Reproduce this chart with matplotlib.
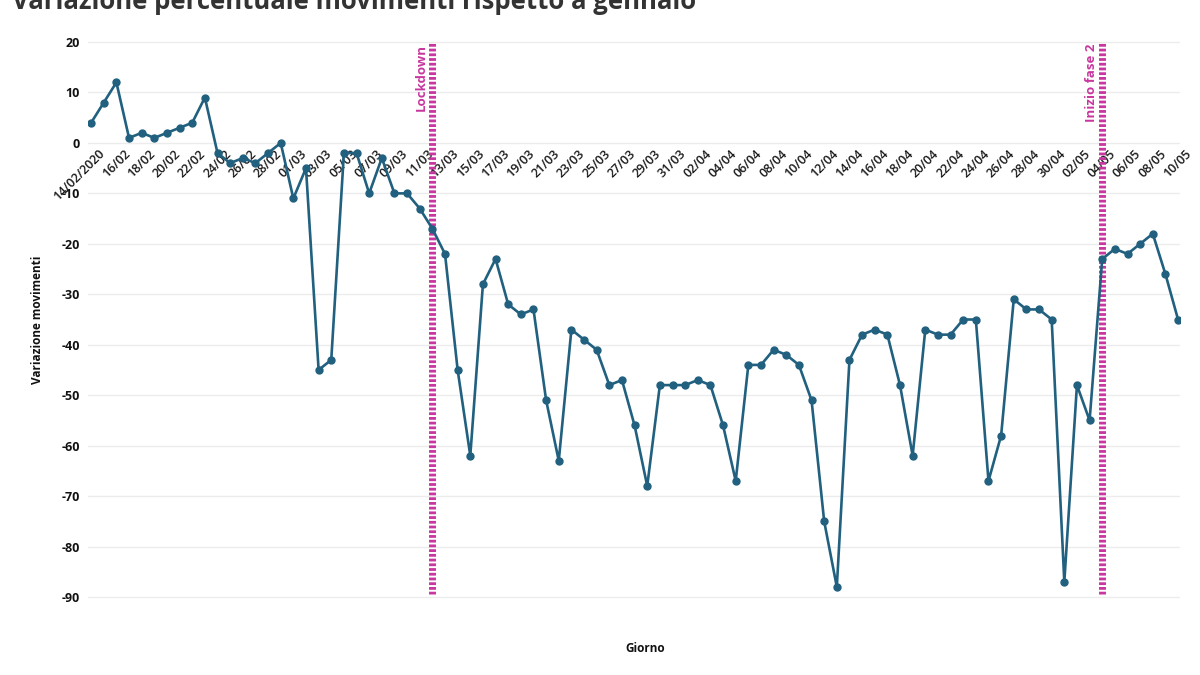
import numpy as np
import pandas as pd
import matplotlib
matplotlib.use("Agg")
import matplotlib.pyplot as plt
from matplotlib.transforms import ScaledTranslation

# ======================
# DATI
# ======================
giorni = pd.date_range("2020-02-14", "2020-05-10", freq="D")
etichette = [d.strftime("%d/%m") for d in giorni]
etichette[0] = "14/02/2020"

variazione = [
    4, 8, 12, 1, 2, 1, 2, 3, 4, 9,              # 14/02 - 23/02
    -2, -4, -3, -4, -2, 0, -11, -5, -45, -43,   # 24/02 - 04/03
    -2, -2, -10, -3, -10, -10, -13, -17, -22, -45,  # 05/03 - 14/03
    -62, -28, -23, -32, -34, -33, -51, -63, -37, -39,  # 15/03 - 24/03
    -41, -48, -47, -56, -68, -48, -48, -48, -47, -48,  # 25/03 - 03/04
    -56, -67, -44, -44, -41, -42, -44, -51, -75, -88,  # 04/04 - 13/04
    -43, -38, -37, -38, -48, -62, -37, -38, -38, -35,  # 14/04 - 23/04
    -35, -67, -58, -31, -33, -33, -35, -87, -48, -55,  # 24/04 - 03/05
    -23, -21, -22, -20, -18, -26, -35,              # 04/05 - 10/05
]

eventi = ["Lockdown", "Inizio fase 2"]
giorni_eventi = ["12/03", "04/05"]

# ======================
# STILE
# ======================
plt.rcParams["axes.unicode_minus"] = False
blu = "#21607f"
magenta = "#c8379f"
font = "Open Sans"

x = np.arange(len(variazione))

fig = plt.figure(figsize=(12, 6.75), dpi=100)
ax = fig.add_axes([0.0733, 0.1081, 0.91, 0.8371])

ax.set_xlim(-0.25, len(x) - 0.85)
ax.set_ylim(-91, 21)

# griglia orizzontale
ax.set_yticks(np.arange(-90, 21, 10))
ax.yaxis.grid(True, color="#ececec", linewidth=1)
ax.set_axisbelow(True)
for s in ax.spines.values():
    s.set_visible(False)

# linee verticali eventi
for ev, g in zip(eventi, giorni_eventi):
    xi = etichette.index(g)
    ax.plot([xi, xi], [-89.5, 20], color=magenta, linewidth=5,
            linestyle=(0, (0.4, 0.28)), solid_capstyle="butt", zorder=2)
    ax.text(xi - 0.35, 19.6, ev, rotation=90, ha="right", va="top",
            color=magenta, fontsize=9.5, fontweight="bold", family=font)

# serie
ax.plot(x, variazione, color=blu, linewidth=1.9, marker="o", markersize=5,
        solid_joinstyle="round", zorder=3)

# asse x sullo zero
ax.spines["bottom"].set_position(("data", 0))
ax.set_xticks(x[::2])
ax.set_xticklabels(etichette[::2])
ax.tick_params(axis="x", length=0, pad=3)
ax.tick_params(axis="y", length=0, pad=6)
offset = ScaledTranslation(5 / 72, 0, fig.dpi_scale_trans)
for lab in ax.get_xticklabels():
    lab.set_rotation(45)
    lab.set_rotation_mode("anchor")
    lab.set_ha("right")
    lab.set_va("top")
    lab.set_fontsize(9)
    lab.set_fontweight("semibold")
    lab.set_family(font)
    lab.set_color("#1a1a1a")
    lab.set_transform(lab.get_transform() + offset)
for lab in ax.get_yticklabels():
    lab.set_fontsize(9)
    lab.set_fontweight("bold")
    lab.set_family(font)
    lab.set_color("#111111")

ax.set_ylabel("Variazione movimenti", fontsize=8.5, fontweight="bold",
              family=font, color="#111111", labelpad=12)
fig.text(0.5375, 0.04, "Giorno", ha="center", va="center", fontsize=8.5,
         fontweight="bold", family=font, color="#111111")

fig.text(0.01, 0.986, "Variazione percentuale movimenti rispetto a gennaio",
         ha="left", va="baseline", fontsize=18.5, fontweight="bold",
         family=font, color="#333333")

fig.savefig("out.png", dpi=100)
